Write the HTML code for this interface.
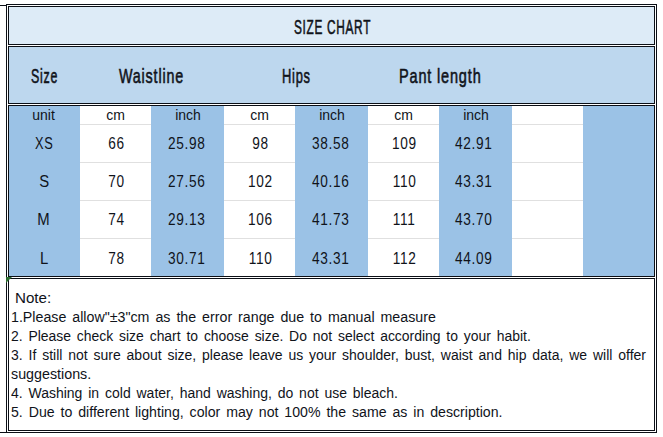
<!DOCTYPE html>
<html><head><meta charset="utf-8"><style>
html,body{margin:0;padding:0;}
body{width:663px;height:437px;position:relative;overflow:hidden;background:#fff;font-family:"Liberation Sans",sans-serif;color:#10131a;}
body>div{position:absolute;}
.n{word-spacing:2.2px;}
.b{-webkit-text-stroke:0.6px #10131a;letter-spacing:1.2px;}
.t{white-space:nowrap;line-height:1;transform-origin:0 0;}
.c{white-space:nowrap;line-height:1;text-align:center;}
.tri{width:0;height:0;border-top:6px solid #2f6f33;border-right:6px solid transparent;}
</style></head><body>
<div style="left:9px;top:7px;width:645px;height:37px;background:#DDEBF7"></div>
<div style="left:9px;top:47px;width:645px;height:56px;background:#BDD7EE"></div>
<div style="left:9px;top:106px;width:645px;height:170px;background:#fff"></div>
<div style="left:9px;top:106px;width:71px;height:170px;background:#9BC2E6"></div>
<div style="left:80px;top:124px;width:71px;height:1px;background:#E0E0E0"></div>
<div style="left:80px;top:162px;width:71px;height:1px;background:#E0E0E0"></div>
<div style="left:80px;top:200px;width:71px;height:1px;background:#E0E0E0"></div>
<div style="left:80px;top:238px;width:71px;height:1px;background:#E0E0E0"></div>
<div style="left:151px;top:106px;width:73px;height:170px;background:#9BC2E6"></div>
<div style="left:224px;top:124px;width:71px;height:1px;background:#E0E0E0"></div>
<div style="left:224px;top:162px;width:71px;height:1px;background:#E0E0E0"></div>
<div style="left:224px;top:200px;width:71px;height:1px;background:#E0E0E0"></div>
<div style="left:224px;top:238px;width:71px;height:1px;background:#E0E0E0"></div>
<div style="left:295px;top:106px;width:73px;height:170px;background:#9BC2E6"></div>
<div style="left:368px;top:124px;width:71px;height:1px;background:#E0E0E0"></div>
<div style="left:368px;top:162px;width:71px;height:1px;background:#E0E0E0"></div>
<div style="left:368px;top:200px;width:71px;height:1px;background:#E0E0E0"></div>
<div style="left:368px;top:238px;width:71px;height:1px;background:#E0E0E0"></div>
<div style="left:439px;top:106px;width:73px;height:170px;background:#9BC2E6"></div>
<div style="left:512px;top:124px;width:71px;height:1px;background:#E0E0E0"></div>
<div style="left:512px;top:162px;width:71px;height:1px;background:#E0E0E0"></div>
<div style="left:512px;top:200px;width:71px;height:1px;background:#E0E0E0"></div>
<div style="left:512px;top:238px;width:71px;height:1px;background:#E0E0E0"></div>
<div style="left:583px;top:106px;width:71px;height:170px;background:#9BC2E6"></div>
<div style="left:6px;top:4px;width:651px;height:1px;background:#0b0f16"></div>
<div style="left:0px;top:5px;width:6px;height:1px;background:#0b0f16"></div>
<div style="left:6px;top:432px;width:651px;height:1px;background:#0b0f16"></div>
<div style="left:0px;top:432px;width:6px;height:1px;background:#0b0f16"></div>
<div style="left:6px;top:4px;width:1px;height:429px;background:#0b0f16"></div>
<div style="left:656px;top:4px;width:1px;height:429px;background:#0b0f16"></div>
<div style="left:8px;top:6px;width:647px;height:1px;background:#0b0f16"></div>
<div style="left:8px;top:430px;width:647px;height:1px;background:#0b0f16"></div>
<div style="left:8px;top:6px;width:1px;height:39px;background:#0b0f16"></div>
<div style="left:654px;top:6px;width:1px;height:39px;background:#0b0f16"></div>
<div style="left:8px;top:46px;width:1px;height:58px;background:#0b0f16"></div>
<div style="left:654px;top:46px;width:1px;height:58px;background:#0b0f16"></div>
<div style="left:8px;top:105px;width:1px;height:172px;background:#0b0f16"></div>
<div style="left:654px;top:105px;width:1px;height:172px;background:#0b0f16"></div>
<div style="left:8px;top:278px;width:1px;height:153px;background:#0b0f16"></div>
<div style="left:654px;top:278px;width:1px;height:153px;background:#0b0f16"></div>
<div style="left:8px;top:44px;width:647px;height:1px;background:#0b0f16"></div>
<div style="left:8px;top:46px;width:647px;height:1px;background:#0b0f16"></div>
<div style="left:8px;top:103px;width:647px;height:1px;background:#0b0f16"></div>
<div style="left:8px;top:105px;width:647px;height:1px;background:#0b0f16"></div>
<div style="left:8px;top:276px;width:647px;height:1px;background:#0b0f16"></div>
<div style="left:8px;top:278px;width:647px;height:1px;background:#0b0f16"></div>
<div class="tri" style="left:6px;top:277px"></div>
<div class="t b" style="left:294px;top:16.6px;font-size:20.8px;transform:scaleX(0.5696249999999999);">SIZE CHART</div>
<div class="t b" style="left:31px;top:65.7px;font-size:20.8px;transform:scaleX(0.5967499999999999);">Size</div>
<div class="t b" style="left:119px;top:65.7px;font-size:20.8px;transform:scaleX(0.6885576923076923);">Waistline</div>
<div class="t b" style="left:281.5px;top:65.7px;font-size:20.8px;transform:scaleX(0.619701923076923);">Hips</div>
<div class="t b" style="left:399px;top:65.7px;font-size:20.8px;transform:scaleX(0.696903846153846);">Pant length</div>
<div class="c" style="left:8px;top:108px;width:71px;font-size:14px;"><span style="display:inline-block;transform:scaleX(1.0)">unit</span></div>
<div class="c" style="left:80px;top:108px;width:71px;font-size:14px;"><span style="display:inline-block;transform:scaleX(1.0)">cm</span></div>
<div class="c" style="left:151.5px;top:108px;width:73.0px;font-size:14px;"><span style="display:inline-block;transform:scaleX(1.0)">inch</span></div>
<div class="c" style="left:224px;top:108px;width:71px;font-size:14px;"><span style="display:inline-block;transform:scaleX(1.0)">cm</span></div>
<div class="c" style="left:295.5px;top:108px;width:73.0px;font-size:14px;"><span style="display:inline-block;transform:scaleX(1.0)">inch</span></div>
<div class="c" style="left:368px;top:108px;width:71px;font-size:14px;"><span style="display:inline-block;transform:scaleX(1.0)">cm</span></div>
<div class="c" style="left:439.5px;top:108px;width:73.0px;font-size:14px;"><span style="display:inline-block;transform:scaleX(1.0)">inch</span></div>
<div class="c" style="left:8.0px;top:136.3px;width:71.0px;font-size:16px;letter-spacing:0.8px;text-indent:0.8px"><span style="display:inline-block;transform:scaleX(0.8)">XS</span></div>
<div class="c" style="left:80px;top:136.3px;width:71px;font-size:16px;letter-spacing:0.8px;text-indent:0.8px"><span style="display:inline-block;transform:scaleX(0.853)">66</span></div>
<div class="c" style="left:149.8px;top:136.3px;width:73.0px;font-size:16px;letter-spacing:0.8px;text-indent:0.8px"><span style="display:inline-block;transform:scaleX(0.853)">25.98</span></div>
<div class="c" style="left:224px;top:136.3px;width:71px;font-size:16px;letter-spacing:0.8px;text-indent:0.8px"><span style="display:inline-block;transform:scaleX(0.853)">98</span></div>
<div class="c" style="left:293.8px;top:136.3px;width:73.0px;font-size:16px;letter-spacing:0.8px;text-indent:0.8px"><span style="display:inline-block;transform:scaleX(0.853)">38.58</span></div>
<div class="c" style="left:368px;top:136.3px;width:71px;font-size:16px;letter-spacing:0.8px;text-indent:0.8px"><span style="display:inline-block;transform:scaleX(0.853)">109</span></div>
<div class="c" style="left:437.0px;top:136.3px;width:73.0px;font-size:16px;letter-spacing:0.8px;text-indent:0.8px"><span style="display:inline-block;transform:scaleX(0.853)">42.91</span></div>
<div class="c" style="left:8.0px;top:174.3px;width:71.0px;font-size:16px;letter-spacing:0.8px;text-indent:0.8px"><span style="display:inline-block;transform:scaleX(0.93)">S</span></div>
<div class="c" style="left:80px;top:174.3px;width:71px;font-size:16px;letter-spacing:0.8px;text-indent:0.8px"><span style="display:inline-block;transform:scaleX(0.853)">70</span></div>
<div class="c" style="left:149.8px;top:174.3px;width:73.0px;font-size:16px;letter-spacing:0.8px;text-indent:0.8px"><span style="display:inline-block;transform:scaleX(0.853)">27.56</span></div>
<div class="c" style="left:224px;top:174.3px;width:71px;font-size:16px;letter-spacing:0.8px;text-indent:0.8px"><span style="display:inline-block;transform:scaleX(0.853)">102</span></div>
<div class="c" style="left:293.8px;top:174.3px;width:73.0px;font-size:16px;letter-spacing:0.8px;text-indent:0.8px"><span style="display:inline-block;transform:scaleX(0.853)">40.16</span></div>
<div class="c" style="left:368px;top:174.3px;width:71px;font-size:16px;letter-spacing:0.8px;text-indent:0.8px"><span style="display:inline-block;transform:scaleX(0.853)">110</span></div>
<div class="c" style="left:437.0px;top:174.3px;width:73.0px;font-size:16px;letter-spacing:0.8px;text-indent:0.8px"><span style="display:inline-block;transform:scaleX(0.853)">43.31</span></div>
<div class="c" style="left:8.0px;top:212.3px;width:71.0px;font-size:16px;letter-spacing:0.8px;text-indent:0.8px"><span style="display:inline-block;transform:scaleX(0.93)">M</span></div>
<div class="c" style="left:80px;top:212.3px;width:71px;font-size:16px;letter-spacing:0.8px;text-indent:0.8px"><span style="display:inline-block;transform:scaleX(0.853)">74</span></div>
<div class="c" style="left:149.8px;top:212.3px;width:73.0px;font-size:16px;letter-spacing:0.8px;text-indent:0.8px"><span style="display:inline-block;transform:scaleX(0.853)">29.13</span></div>
<div class="c" style="left:224px;top:212.3px;width:71px;font-size:16px;letter-spacing:0.8px;text-indent:0.8px"><span style="display:inline-block;transform:scaleX(0.853)">106</span></div>
<div class="c" style="left:293.8px;top:212.3px;width:73.0px;font-size:16px;letter-spacing:0.8px;text-indent:0.8px"><span style="display:inline-block;transform:scaleX(0.853)">41.73</span></div>
<div class="c" style="left:368px;top:212.3px;width:71px;font-size:16px;letter-spacing:0.8px;text-indent:0.8px"><span style="display:inline-block;transform:scaleX(0.853)">111</span></div>
<div class="c" style="left:437.0px;top:212.3px;width:73.0px;font-size:16px;letter-spacing:0.8px;text-indent:0.8px"><span style="display:inline-block;transform:scaleX(0.853)">43.70</span></div>
<div class="c" style="left:8.0px;top:251.3px;width:71.0px;font-size:16px;letter-spacing:0.8px;text-indent:0.8px"><span style="display:inline-block;transform:scaleX(0.93)">L</span></div>
<div class="c" style="left:80px;top:251.3px;width:71px;font-size:16px;letter-spacing:0.8px;text-indent:0.8px"><span style="display:inline-block;transform:scaleX(0.853)">78</span></div>
<div class="c" style="left:149.8px;top:251.3px;width:73.0px;font-size:16px;letter-spacing:0.8px;text-indent:0.8px"><span style="display:inline-block;transform:scaleX(0.853)">30.71</span></div>
<div class="c" style="left:224px;top:251.3px;width:71px;font-size:16px;letter-spacing:0.8px;text-indent:0.8px"><span style="display:inline-block;transform:scaleX(0.853)">110</span></div>
<div class="c" style="left:293.8px;top:251.3px;width:73.0px;font-size:16px;letter-spacing:0.8px;text-indent:0.8px"><span style="display:inline-block;transform:scaleX(0.853)">43.31</span></div>
<div class="c" style="left:368px;top:251.3px;width:71px;font-size:16px;letter-spacing:0.8px;text-indent:0.8px"><span style="display:inline-block;transform:scaleX(0.853)">112</span></div>
<div class="c" style="left:437.0px;top:251.3px;width:73.0px;font-size:16px;letter-spacing:0.8px;text-indent:0.8px"><span style="display:inline-block;transform:scaleX(0.853)">44.09</span></div>
<div class="t n" style="left:15px;top:289.9px;font-size:15.5px;transform:scaleX(0.9768);">Note:</div>
<div class="t n" style="left:11px;top:308.9px;font-size:15.5px;transform:scaleX(0.9171);">1.Please allow"±3"cm as the error range due to manual measure</div>
<div class="t n" style="left:11px;top:327.9px;font-size:15.5px;transform:scaleX(0.8981);">2. Please check size chart to choose size. Do not select according to your habit.</div>
<div class="t n" style="left:11px;top:346.9px;font-size:15.5px;transform:scaleX(0.9019);">3. If still not sure about size, please leave us your shoulder, bust, waist and hip data, we will offer</div>
<div class="t n" style="left:11px;top:365.9px;font-size:15.5px;transform:scaleX(0.9218);">suggestions.</div>
<div class="t n" style="left:11px;top:384.9px;font-size:15.5px;transform:scaleX(0.9019);">4. Washing in cold water, hand washing, do not use bleach.</div>
<div class="t n" style="left:11px;top:403.9px;font-size:15.5px;transform:scaleX(0.9114);">5. Due to different lighting, color may not 100% the same as in description.</div>
</body></html>
